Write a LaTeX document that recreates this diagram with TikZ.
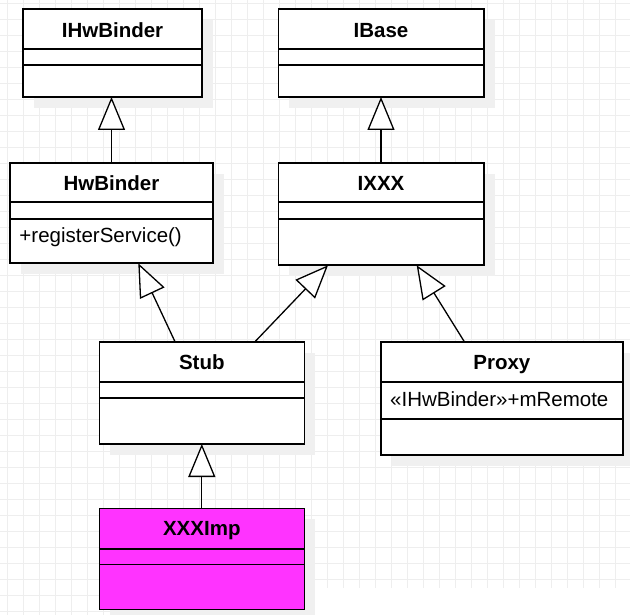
\documentclass[tikz,border=0pt]{standalone}
\usepackage{fontspec}
\setmainfont{Liberation Sans}
\usetikzlibrary{arrows.meta,shadows,calc}
\definecolor{gridc}{HTML}{EEEEEE}
\definecolor{shadowc}{HTML}{F0F0F0}
\definecolor{magentac}{HTML}{FF33FF}
\begin{document}
\begin{tikzpicture}[x=1pt,y=-1pt,
  cls/.style={draw=black, line width=1.6pt, fill=white, inner sep=0pt, outer sep=0pt,
    anchor=north west, general shadow={fill=shadowc, shadow xshift=11pt, shadow yshift=-11pt}},
  divline/.style={draw=black, line width=1.6pt},
  ttl/.style={font=\bfseries\fontsize{20.5}{24}\selectfont, inner sep=0pt, anchor=base},
  mem/.style={font=\fontsize{20.5}{24}\selectfont, inner sep=0pt, anchor=base west},
  inh/.style={draw=black, line width=1.3pt, -{Triangle[fill=white, length=33pt, width=27pt]}}]
\useasboundingbox (0,0) rectangle (630,615);
\fill[white] (0,0) rectangle (630,615);
% grid
\foreach \k in {0,...,38} {
  \draw[gridc, line width=1pt] ({7.3+16*\k},0) -- ({7.3+16*\k},615);
  \draw[gridc, line width=1pt] (0,{3.3+16*\k}) -- (630,{3.3+16*\k});
}
\fill[white] (310,588) rectangle (630,615);

% IHwBinder
\node[cls, minimum width=179pt, minimum height=88pt] (ihw) at (23,9) {};
\draw[divline] ([yshift=-40pt]ihw.north west) -- ([yshift=-40pt]ihw.north east);
\draw[divline] ([yshift=-56pt]ihw.north west) -- ([yshift=-56pt]ihw.north east);
\node[ttl] (ihwT) at ([yshift=-28.5pt]ihw.north) {IHwBinder};

% IBase
\node[cls, minimum width=205.4pt, minimum height=88pt] (ibase) at (278.3,9) {};
\draw[divline] ([yshift=-40pt]ibase.north west) -- ([yshift=-40pt]ibase.north east);
\draw[divline] ([yshift=-56pt]ibase.north west) -- ([yshift=-56pt]ibase.north east);
\node[ttl] (ibaseT) at ([yshift=-28.5pt]ibase.north) {IBase};

% HwBinder
\node[cls, minimum width=203pt, minimum height=100.3pt] (hwb) at (10,163) {};
\draw[divline] ([yshift=-39.3pt]hwb.north west) -- ([yshift=-39.3pt]hwb.north east);
\draw[divline] ([yshift=-56pt]hwb.north west) -- ([yshift=-56pt]hwb.north east);
\node[ttl] (hwbT) at ([yshift=-27.5pt]hwb.north) {HwBinder};
\node[mem] (hwbM) at ([xshift=9.3pt,yshift=-79.7pt]hwb.north west) {+registerService()};

% IXXX
\node[cls, minimum width=205.4pt, minimum height=102.3pt] (ixxx) at (278.3,163) {};
\draw[divline] ([yshift=-39.3pt]ixxx.north west) -- ([yshift=-39.3pt]ixxx.north east);
\draw[divline] ([yshift=-56pt]ixxx.north west) -- ([yshift=-56pt]ixxx.north east);
\node[ttl] (ixxxT) at ([yshift=-27.5pt]ixxx.north) {IXXX};

% Stub
\node[cls, minimum width=205pt, minimum height=102.3pt] (stub) at (99.3,341.7) {};
\draw[divline] ([yshift=-40.3pt]stub.north west) -- ([yshift=-40.3pt]stub.north east);
\draw[divline] ([yshift=-56pt]stub.north west) -- ([yshift=-56pt]stub.north east);
\node[ttl] (stubT) at ([yshift=-27.6pt]stub.north) {Stub};

% Proxy
\node[cls, minimum width=241.7pt, minimum height=113.3pt] (proxy) at (381,341.7) {};
\draw[divline] ([yshift=-40.3pt]proxy.north west) -- ([yshift=-40.3pt]proxy.north east);
\draw[divline] ([yshift=-77.3pt]proxy.north west) -- ([yshift=-77.3pt]proxy.north east);
\node[ttl] (proxyT) at ([yshift=-27.6pt]proxy.north) {Proxy};
\node[mem] (proxyM) at ([xshift=9pt,yshift=-64.3pt]proxy.north west) {«IHwBinder»+mRemote};

% XXXImp
\node[cls, fill=magentac, minimum width=205pt, minimum height=101pt] (ximp) at (99.3,508.3) {};
\draw[divline] ([yshift=-40.4pt]ximp.north west) -- ([yshift=-40.4pt]ximp.north east);
\draw[divline] ([yshift=-56pt]ximp.north west) -- ([yshift=-56pt]ximp.north east);
\node[ttl] (ximpT) at ([yshift=-27.6pt]ximp.north) {XXXImp};

% inheritance connectors
\draw[inh] (hwb.north) -- (hwb.north |- ihw.south);
\draw[inh] (ixxx.north) -- (ibase.south);
\draw[inh] ([xshift=-26.8pt]stub.north) -- ([xshift=26.8pt]hwb.south);
\draw[inh] ([xshift=53.2pt]stub.north) -- ([xshift=-53pt]ixxx.south);
\draw[inh] ([xshift=-37.5pt]proxy.north) -- ([xshift=35.7pt]ixxx.south);
\draw[inh] (ximp.north) -- (stub.south);
\end{tikzpicture}
\end{document}
